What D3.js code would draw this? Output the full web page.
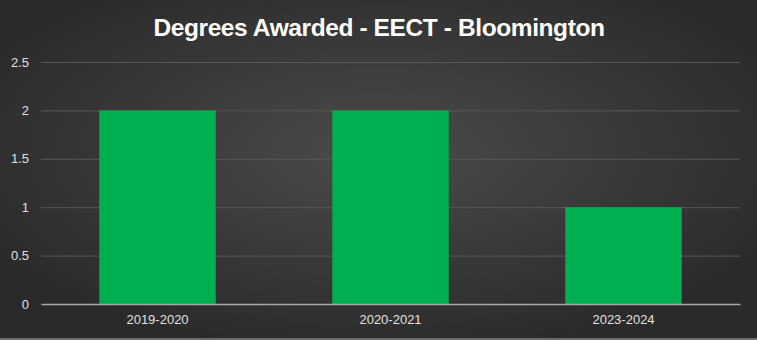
<!DOCTYPE html>
<meta charset="utf-8">
<title>Degrees Awarded - EECT - Bloomington</title>
<style>
body { margin: 0; background: #2b2b2b; }
svg { display: block; }
.tick text { font-family: "Liberation Sans", Arial, sans-serif; }
</style>
<svg width="757" height="340"></svg>
<script src="https://cdn.jsdelivr.net/npm/d3@7"></script>
<script>

// chart data
var years = ["2019-2020", "2020-2021", "2023-2024"];
var degrees = [2, 2, 1];
var yTicks = [0, 0.5, 1, 1.5, 2, 2.5];

var svg = d3.select("svg"),
    width = +svg.attr("width"),
    height = +svg.attr("height");

// dark radial background
var grad = svg.append("defs").append("radialGradient")
    .attr("id", "bg")
    .attr("cx", "50%").attr("cy", "45%").attr("r", "60%");
grad.append("stop").attr("offset", "0%").attr("stop-color", "#4b4b4b");
grad.append("stop").attr("offset", "100%").attr("stop-color", "#2a2a2a");

svg.append("rect")
    .attr("width", width).attr("height", height)
    .attr("fill", "url(#bg)");

// thin light line along the bottom edge
svg.append("rect")
    .attr("x", 0).attr("y", height - 2)
    .attr("width", width).attr("height", 2)
    .attr("fill", "#6a6a6a");

// plot area (don't call it "top", that's window.top)
var plotLeft = 41, plotRight = 740, plotTop = 62, plotBottom = 304;

var x = d3.scaleBand()
    .domain(years)
    .range([plotLeft, plotRight])
    .paddingInner(0.5)
    .paddingOuter(0.25);

var y = d3.scaleLinear()
    .domain([0, 2.5])
    .range([plotBottom, plotTop]);

// gridlines
svg.append("g")
  .selectAll("line")
  .data(yTicks.filter(function(d) { return d > 0; }))
  .enter().append("line")
    .attr("x1", plotLeft).attr("x2", plotRight)
    .attr("y1", function(d) { return y(d) + 0.5; })
    .attr("y2", function(d) { return y(d) + 0.5; })
    .attr("stroke", "#575757")
    .attr("stroke-width", 1);

// bars
svg.append("g")
  .selectAll("rect")
  .data(years)
  .enter().append("rect")
    .attr("x", function(d) { return x(d); })
    .attr("width", x.bandwidth())
    .attr("y", function(d, i) { return y(degrees[i]); })
    .attr("height", function(d, i) { return y(0) - y(degrees[i]); })
    .attr("fill", "#00b050");

// y axis labels
var yAxis = svg.append("g")
    .attr("transform", "translate(" + plotLeft + ",0)")
    .call(d3.axisLeft(y).tickValues(yTicks).tickSize(0).tickPadding(12)
      .tickFormat(function(d) { return d; }));
yAxis.select(".domain").remove();
yAxis.selectAll("text")
    .attr("fill", "#e0e0e0")
    .attr("font-size", 13);

// x axis
var xAxis = svg.append("g")
    .attr("transform", "translate(0," + plotBottom + ")")
    .call(d3.axisBottom(x).tickSize(0).tickPadding(11));
xAxis.select(".domain")
    .attr("stroke", "#a8a8a8")
    .attr("stroke-width", 1.5);
xAxis.selectAll("text")
    .attr("fill", "#e0e0e0")
    .attr("font-size", 13);

// title
svg.append("text")
    .attr("x", 379)
    .attr("y", 36)
    .attr("text-anchor", "middle")
    .attr("fill", "#ffffff")
    .attr("font-family", "Liberation Sans, Arial, sans-serif")
    .attr("font-weight", "bold")
    .attr("font-size", 24.5)
    .attr("letter-spacing", -0.4)
    .text("Degrees Awarded - EECT - Bloomington");

</script>
